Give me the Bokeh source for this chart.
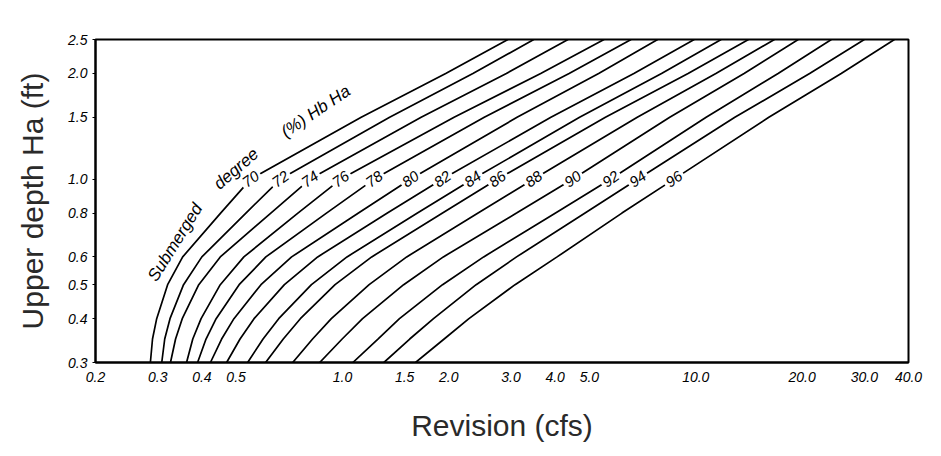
from bokeh.plotting import figure
from bokeh.models import FixedTicker, ColumnDataSource, LabelSet
from bokeh.core.properties import value
from bokeh.embed import file_html
from bokeh.resources import INLINE

# ---- data ----
depth_levels = [0.3, 0.35, 0.4, 0.5, 0.6, 0.8, 1.0, 1.5, 2.0, 2.5]  # Ha (ft)
submergence = [70, 72, 74, 76, 78, 80, 82, 84, 86, 88, 90, 92, 94, 96]

flow_70 = [0.286, 0.290, 0.298, 0.320, 0.353, 0.452, 0.550, 1.13, 1.96, 2.94]
flow_72 = [0.308, 0.314, 0.325, 0.355, 0.400, 0.533, 0.668, 1.36, 2.34, 3.48]
flow_74 = [0.326, 0.337, 0.352, 0.392, 0.451, 0.627, 0.81, 1.67, 2.91, 4.35]
flow_76 = [0.362, 0.377, 0.398, 0.451, 0.526, 0.748, 0.99, 2.07, 3.64, 5.50]
flow_78 = [0.389, 0.411, 0.439, 0.510, 0.607, 0.901, 1.23, 2.52, 4.38, 6.56]
flow_80 = [0.423, 0.455, 0.493, 0.588, 0.718, 1.11, 1.56, 3.12, 5.31, 7.8]
flow_82 = [0.47, 0.513, 0.562, 0.685, 0.851, 1.34, 1.92, 3.89, 6.68, 9.9]
flow_84 = [0.539, 0.596, 0.660, 0.817, 1.03, 1.63, 2.34, 4.69, 8.0, 11.8]
flow_86 = [0.606, 0.680, 0.760, 0.953, 1.21, 1.92, 2.75, 5.55, 9.51, 14.1]
flow_88 = [0.723, 0.823, 0.930, 1.19, 1.52, 2.42, 3.48, 6.83, 11.4, 16.7]
flow_90 = [0.862, 0.998, 1.14, 1.49, 1.93, 3.11, 4.49, 8.44, 13.7, 19.5]
flow_92 = [1.07, 1.26, 1.45, 1.92, 2.51, 4.01, 5.75, 10.7, 17.1, 24.2]
flow_94 = [1.31, 1.55, 1.81, 2.39, 3.11, 4.86, 6.86, 12.9, 21.0, 30.0]
flow_96 = [1.61, 1.94, 2.28, 3.08, 4.05, 6.18, 8.68, 16.1, 25.8, 36.5]

x_tick_values = [0.2, 0.3, 0.4, 0.5, 1.0, 1.5, 2.0, 3.0, 4.0, 5.0, 10.0, 20.0, 30.0, 40.0]
x_tick_labels = ["0.2", "0.3", "0.4", "0.5", "1.0", "1.5", "2.0", "3.0", "4.0", "5.0",
                 "10.0", "20.0", "30.0", "40.0"]
y_tick_values = [0.3, 0.4, 0.5, 0.6, 0.8, 1.0, 1.5, 2.0, 2.5]
y_tick_labels = ["0.3", "0.4", "0.5", "0.6", "0.8", "1.0", "1.5", "2.0", "2.5"]

curves = [flow_70, flow_72, flow_74, flow_76, flow_78, flow_80, flow_82,
          flow_84, flow_86, flow_88, flow_90, flow_92, flow_94, flow_96]

FONT = "Liberation Sans"

# ---- figure ----
p = figure(width=941, height=456, output_backend="svg", toolbar_location=None,
           x_axis_type="log", y_axis_type="log",
           x_range=(0.2, 40.0), y_range=(0.3, 2.5),
           min_border_left=95, min_border_right=33,
           min_border_top=39, min_border_bottom=94)
p.background_fill_color = "white"
p.border_fill_color = "white"
p.outline_line_color = "black"
p.outline_line_width = 2
p.xgrid.visible = False
p.ygrid.visible = False

for flows in curves:
    p.line(flows, depth_levels, line_color="black", line_width=1.7)

# curve labels sitting on the curves near Ha = 1.0 ft
lab_src = ColumnDataSource(dict(
    x=[c[depth_levels.index(1.0)] for c in curves],
    y=[1.0] * len(curves),
    t=[str(s) for s in submergence],
))
p.add_layout(LabelSet(x="x", y="y", text="t", source=lab_src,
                      angle=36, angle_units="deg",
                      text_align="center", text_baseline="middle",
                      text_font=value(FONT), text_font_style="italic",
                      text_font_size="15px", text_color="black",
                      background_fill_color="white",
                      border_line_color="white", border_line_width=5))

# "Submerged degree (%) Hb Ha" written along the first curve
txt_kw = dict(angle_units="deg", text_align="center", text_baseline="middle",
              text_font=value(FONT), text_font_style="italic",
              text_font_size="17px", text_color="black")
p.text(x=[0.336], y=[0.66], text=["Submerged"], angle=58, **txt_kw)
p.text(x=[0.50], y=[1.07], text=["degree"], angle=41, **txt_kw)
p.text(x=[0.84], y=[1.56], text=["(%) Hb Ha"], angle=34, **txt_kw)

# axes
p.xaxis.ticker = FixedTicker(ticks=x_tick_values, minor_ticks=[])
p.xaxis.major_label_overrides = dict(zip(x_tick_values, x_tick_labels))
p.yaxis.ticker = FixedTicker(ticks=y_tick_values, minor_ticks=[])
p.yaxis.major_label_overrides = dict(zip(y_tick_values, y_tick_labels))

for ax in (p.xaxis[0], p.yaxis[0]):
    ax.axis_line_color = "black"
    ax.axis_line_width = 2
    ax.major_tick_line_color = "black"
    ax.major_tick_in = 0
    ax.minor_tick_line_color = None
    ax.major_label_text_font = FONT
    ax.major_label_text_font_style = "italic"
    ax.major_label_text_font_size = "14px"
    ax.major_label_text_color = "black"
    ax.axis_label_text_font = FONT
    ax.axis_label_text_font_style = "normal"
    ax.axis_label_text_font_size = "30px"
    ax.axis_label_text_color = "#2a2a2a"

p.xaxis.major_tick_out = 0
p.xaxis.major_label_standoff = 9
p.yaxis.major_tick_out = 3
p.yaxis.major_label_standoff = 5
p.xaxis.axis_label = "Revision (cfs)"
p.xaxis.axis_label_standoff = 24
p.yaxis.axis_label = "Upper depth Ha (ft)"
p.yaxis.axis_label_standoff = 16

open("out.html", "w").write(file_html(p, INLINE))
